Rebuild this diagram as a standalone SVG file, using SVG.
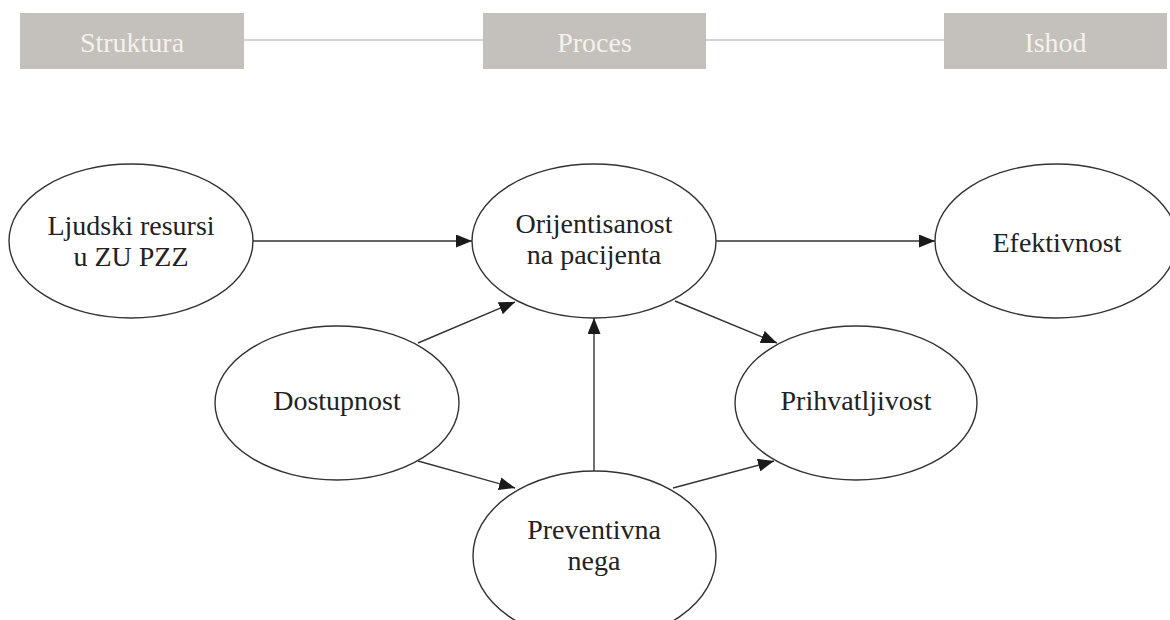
<svg xmlns="http://www.w3.org/2000/svg" width="1170" height="620" viewBox="0 0 1170 620">
<style>
.hdr{fill:#c4c0bb}
.hline{stroke:#c4c4c4;stroke-width:1.5;fill:none}
.htxt{font-family:'Liberation Serif','Times New Roman',Tinos,'DejaVu Serif',serif;font-size:28px;fill:#f5f2ee;text-anchor:middle}
.node{fill:#fff;stroke:#333;stroke-width:1.4}
.ntxt{font-family:'Liberation Serif','Times New Roman',Tinos,'DejaVu Serif',serif;font-size:28px;fill:#222;text-anchor:middle}
.edge{stroke:#333;stroke-width:1.4;fill:none;marker-end:url(#arr)}
</style>
<defs>
<marker id="arr" markerUnits="userSpaceOnUse" viewBox="0 0 16 13" refX="16" refY="6.5" markerWidth="16" markerHeight="13" orient="auto">
<path d="M0,0 L16,6.5 L0,13 z" fill="#1a1a1a"/>
</marker>
</defs>
<rect width="1170" height="620" fill="#fff"/>
<g id="header-lines">
<line class="hline" x1="244" y1="40" x2="483" y2="40"/>
<line class="hline" x1="706" y1="40" x2="944" y2="40"/>
</g>
<g id="h-struktura"><rect class="hdr" x="20" y="13" width="224" height="56"/><text class="htxt" x="132" y="52">Struktura</text></g>
<g id="h-proces"><rect class="hdr" x="483" y="13" width="223" height="56"/><text class="htxt" x="594.5" y="52">Proces</text></g>
<g id="h-ishod"><rect class="hdr" x="944" y="13" width="223" height="56"/><text class="htxt" x="1055.5" y="52">Ishod</text></g>
<g id="connectors">
<line class="edge" x1="253" y1="241" x2="472" y2="241"/>
<line class="edge" x1="716" y1="241" x2="935" y2="241"/>
<line class="edge" x1="418" y1="343" x2="515" y2="302"/>
<line class="edge" x1="418" y1="461" x2="515" y2="488"/>
<line class="edge" x1="594" y1="471" x2="594" y2="318"/>
<line class="edge" x1="675" y1="301" x2="777" y2="343"/>
<line class="edge" x1="673" y1="488" x2="774" y2="461"/>
</g>
<g id="n-ljudski"><ellipse class="node" cx="131" cy="241" rx="122" ry="77"/><text class="ntxt" x="131" y="235">Ljudski resursi</text><text class="ntxt" x="131" y="266">u ZU PZZ</text></g>
<g id="n-orijentisanost"><ellipse class="node" cx="594" cy="241" rx="122" ry="77"/><text class="ntxt" x="594" y="233">Orijentisanost</text><text class="ntxt" x="594" y="264">na pacijenta</text></g>
<g id="n-efektivnost"><ellipse class="node" cx="1056" cy="241" rx="121" ry="77"/><text class="ntxt" x="1057" y="252">Efektivnost</text></g>
<g id="n-dostupnost"><ellipse class="node" cx="337" cy="403" rx="122" ry="77"/><text class="ntxt" x="337" y="410">Dostupnost</text></g>
<g id="n-prihvatljivost"><ellipse class="node" cx="856" cy="403" rx="121" ry="77"/><text class="ntxt" x="856" y="410">Prihvatljivost</text></g>
<g id="n-preventivna"><ellipse class="node" cx="594.5" cy="556" rx="121.5" ry="85"/><text class="ntxt" x="594" y="539">Preventivna</text><text class="ntxt" x="594" y="570">nega</text></g>
</svg>
